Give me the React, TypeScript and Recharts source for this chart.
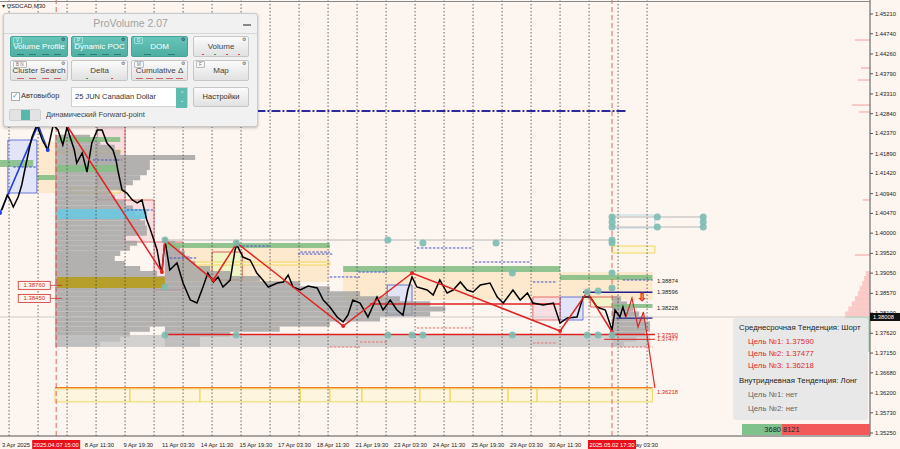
import React from 'react';
import {
  ComposedChart,
  Line,
  XAxis,
  YAxis,
  ReferenceLine,
  ReferenceArea,
  ReferenceDot,
} from 'recharts';

const FONT = '"Liberation Sans", Arial, sans-serif';
const PRICE_MIN = 1.35179;
const PRICE_MAX = 1.45543;
const BAR_MAX = 1440;
const CURRENT_PRICE = 1.38008;

// price scale on the right
const priceTicks = [
  1.4521, 1.4474, 1.4426, 1.4379, 1.4331, 1.4284, 1.4237, 1.4189, 1.4142, 1.4094, 1.4047,
  1.4, 1.3952, 1.3905, 1.3857, 1.381, 1.3762, 1.3715, 1.3668, 1.362, 1.3573, 1.3525,
];

// time scale (M30 bars)
const timeTickBars = [0, 137, 201, 265, 329, 393, 457, 521, 585, 649, 713, 777, 841, 905, 969, 1033];
const timeLabels = [
  '3 Apr 2025', '8 Apr 11:30', '9 Apr 19:30', '11 Apr 03:30', '14 Apr 11:30', '15 Apr 19:30',
  '17 Apr 03:30', '18 Apr 11:30', '21 Apr 19:30', '23 Apr 03:30', '24 Apr 11:30', '25 Apr 19:30',
  '29 Apr 03:30', '30 Apr 11:30', '1 May 19:30', '5 May 03:30',
];
const crosshairBars = [93, 1013];
const crosshairLabels = ['2025.04.07 15:00', '2025.05.02 17:30'];
const daySeparators = [15, 63, 111, 159, 207, 255, 303, 351, 399, 447, 495, 543, 591, 639, 687, 735, 783, 831, 879, 927, 975, 1023, 1071];

// USDCAD M30 closes
const priceBars = [
  3, 12, 17, 22, 30, 36, 41, 48, 53, 61, 70, 79, 88, 96, 104, 111, 116, 123, 127, 136,
  144, 152, 161, 169, 177, 187, 192, 195, 202, 210, 219, 227, 235, 243, 248, 253, 260, 265, 268, 273,
  281, 293, 303, 315, 326, 336, 344, 353, 361, 369, 381, 389, 392, 402, 414, 425, 435, 444, 459, 469,
  477, 485, 497, 510, 525, 535, 546, 558, 568, 576, 584, 596, 609, 624, 634, 646, 657, 667, 675, 682,
  690, 707, 717, 728, 740, 750, 762, 773, 783, 795, 811, 823, 833, 849, 861, 873, 882, 899, 916, 927,
  939, 955, 965, 977, 988, 1002, 1013, 1018, 1026, 1031, 1036,
];
const priceClose = [
  1.40551, 1.40908, 1.40789, 1.40623, 1.4086, 1.41145, 1.41502, 1.41977, 1.42286, 1.42572,
  1.42215, 1.41977, 1.42572, 1.42453, 1.42096, 1.42524, 1.42286, 1.41977, 1.41668, 1.41906,
  1.41454, 1.42144, 1.42453, 1.42453, 1.42144, 1.41977, 1.4174, 1.41502, 1.41027, 1.40955,
  1.40789, 1.40718, 1.40789, 1.40313, 1.40123, 1.39909, 1.396, 1.39196, 1.39077, 1.39838,
  1.39125, 1.39291, 1.38816, 1.38412, 1.3834, 1.38721, 1.39054, 1.3884, 1.38959, 1.38721,
  1.38887, 1.396, 1.39719, 1.39433, 1.39362, 1.39054, 1.38887, 1.38721, 1.38816, 1.3884,
  1.39006, 1.38721, 1.38649, 1.38745, 1.38697, 1.38412, 1.38245, 1.38008, 1.37889, 1.38055,
  1.38412, 1.3834, 1.38008, 1.38483, 1.38174, 1.38412, 1.38174, 1.38055, 1.38649, 1.38959,
  1.38721, 1.38649, 1.38531, 1.38887, 1.38578, 1.38649, 1.3884, 1.38649, 1.38602, 1.38768,
  1.38816, 1.38483, 1.3834, 1.38649, 1.38412, 1.38578, 1.3834, 1.38293, 1.3834, 1.37865,
  1.37984, 1.38008, 1.38483, 1.38483, 1.38245, 1.38174, 1.37699, 1.38174, 1.38008, 1.38245, 1.38008,
];

// zigzag, forecast and early blue swing
const zigzagBars = [108, 268, 273, 353, 392, 568, 682, 927, 972, 1013];
const zigzagPrices = [1.42619, 1.39077, 1.39838, 1.38887, 1.39767, 1.37794, 1.39054, 1.37675, 1.38602, 1.37651];
const forecastBars = [1036, 1046, 1056, 1065, 1084];
const forecastPrices = [1.38008, 1.38459, 1.3777, 1.38127, 1.3632];
const blueSwingBars = [0, 63, 79];
const blueSwingPrices = [1.4048, 1.42572, 1.41977];

// volume profiles: bin bottoms (0.0012 high) and widths in bars
const PROFILE_STEP = 0.0012;
const profileLevels = [
  1.373, 1.3742, 1.3754, 1.3766, 1.3778, 1.379, 1.3802, 1.3814, 1.3826, 1.3838, 1.385, 1.3862,
  1.3874, 1.3886, 1.3898, 1.391, 1.3922, 1.3934, 1.3946, 1.3958, 1.397, 1.3982, 1.3994, 1.4006,
  1.4018, 1.403, 1.4042, 1.4054, 1.4066, 1.4078, 1.409, 1.4102, 1.4114, 1.4126, 1.4138, 1.415,
  1.4162, 1.4174, 1.4186, 1.4198, 1.421, 1.4222,
];
const profileAStart = 91;
const profileAWidths = [
  75, 108, 124, 157, 182, 182, 182, 182, 182, 182, 182, 182, 182, 182, 169, 141, 116, 99, 108, 124,
  136, 116, 152, 152, 149, 141, 132, 129, 116, 99, 91, 116, 129, 141, 152, 157, 157, 232, 108, 99, 75, 58,
];
const profileBStart = 273;
const profileBWidths = [58, 58, 108, 190, 273, 356, 439, 464, 439, 389, 323, 273, 224, 157, 108, 75, 50, 41, 33, 25, 17];
const profileCStart = 1013;
const profileCWidths = [20, 40, 55, 63, 63, 55, 45, 35, 25, 15];

const sellLevels = [1.3802, 1.3814, 1.3826, 1.3838, 1.385, 1.3862, 1.3874, 1.3886, 1.3898];
const sellWidths = [41, 36, 30, 25, 20, 17, 13, 10, 7];
const buyLevels = [1.379, 1.3778, 1.3766, 1.3754, 1.3742, 1.373, 1.3718];
const buyWidths = [41, 33, 25, 20, 17, 13, 8];
const spikePrices = [1.44592, 1.43927, 1.43641, 1.43047, 1.42881, 1.40789, 1.39481];
const spikeWidths = [25, 15, 20, 30, 18, 12, 25];

// zones: [bar1, bar2, priceLow, priceHigh]
const peachZones = [[61, 94, 1.40955, 1.42167], [280, 546, 1.3884, 1.39719], [568, 1080, 1.38412, 1.39077]];
const paleGreenBoxes = [[351, 401, 1.38887, 1.39552], [977, 1023, 1.38245, 1.38483]];
const blueBoxes = [[13, 61, 1.40955, 1.42215], [641, 682, 1.38055, 1.38768], [927, 965, 1.37936, 1.38483]];
const pinkBoxes = [[161, 207, 1.40789, 1.42619], [207, 255, 1.3979, 1.40789], [255, 303, 1.38649, 1.3979], [882, 927, 1.37936, 1.38483]];
const greenBands = [
  [0, 55, 1.41573, 1.4174], [61, 91, 1.41264, 1.41383], [94, 199, 1.42167, 1.42286], [94, 193, 1.41454, 1.41621],
  [273, 546, 1.39648, 1.39767], [568, 927, 1.39077, 1.3922], [927, 1080, 1.38887, 1.39006], [1013, 1080, 1.38222, 1.38317],
];
const cyanBand = [94, 243, 1.40337, 1.40575];
const pocBand = [94, 273, 1.38697, 1.38959];
const lowBand = [91, 1076, 1.37295, 1.3758];
const yellowBoxes = [
  [91, 215, 1.3599, 1.363], [215, 331, 1.3599, 1.363], [331, 497, 1.3599, 1.363], [497, 546, 1.3599, 1.363],
  [546, 599, 1.3599, 1.363], [599, 695, 1.3599, 1.363], [695, 745, 1.3599, 1.363], [745, 841, 1.3599, 1.363],
  [841, 889, 1.3599, 1.363], [889, 1080, 1.3599, 1.363], [323, 546, 1.39243, 1.39315], [1013, 1084, 1.39529, 1.39695],
  [94, 199, 1.41906, 1.41977], [116, 199, 1.40955, 1.41074],
];
const skyBox = [1018, 1084, 1.40124, 1.40432];

// horizontal segments: [bar1, bar2, price]
const navyDashDot = [350, 1038, 1.42904];
const grayLevels = [[273, 1013, 1.39838], [1013, 1164, 1.40385], [1013, 1164, 1.40147]];
const redLevels = [[273, 1084, 1.3759], [1000, 1084, 1.37477], [612, 927, 1.38317]];
const orangeLevel = [91, 1080, 1.3633];
const navyLevels = [[965, 1080, 1.38596], [1020, 1080, 1.37984]];
const blueDashes = [
  [497, 546, 1.39552], [546, 596, 1.38959], [593, 641, 1.39077], [690, 783, 1.39648], [786, 877, 1.39315],
  [882, 922, 1.3884], [1031, 1080, 1.38887], [281, 326, 1.3941], [401, 447, 1.39695], [493, 550, 1.39505],
  [154, 202, 1.4174], [22, 61, 1.41573], [210, 253, 1.40551],
];
const redDashes = [[546, 596, 1.37295], [596, 641, 1.37414], [690, 783, 1.37747], [882, 922, 1.3739], [1026, 1080, 1.37295]];

const blackTargets = [1.38874, 1.38596, 1.38228];
const redTargets = [1.3759, 1.37477, 1.36218];
const TAG_BAR = 1084;
const leftTags = [1.3876, 1.3845];

// teal anchor dots [bar, price]
const anchorDots = [
  [273, 1.39838], [273, 1.38721], [273, 1.3758], [391, 1.39767], [391, 1.3758], [642, 1.39838], [700, 1.39767],
  [821, 1.39767], [642, 1.3758], [682, 1.3758], [700, 1.3758], [848, 1.39054], [848, 1.3758], [972, 1.38602],
  [990, 1.38626], [1013, 1.38697], [1013, 1.39054], [1013, 1.39767], [1013, 1.39838], [1013, 1.40385],
  [1013, 1.40266], [1013, 1.40147], [1088, 1.40385], [1088, 1.40147], [1164, 1.40385], [1164, 1.40266],
  [1164, 1.40147], [972, 1.3758], [990, 1.3758], [1013, 1.3758],
];

// crosshair boxes come last in the tick list so they are painted over the time labels
const XTick = (props: any) => {
  const { x, y, payload } = props;
  const ci = crosshairBars.indexOf(payload.value);
  if (ci >= 0) {
    return (
      <g>
        <rect x={x - 24} y={y + 2} width={48} height={9} fill="#e8101a" />
        <text x={x} y={y + 9} fontSize={5.8} fill="#fff" textAnchor="middle" fontFamily={FONT}>{crosshairLabels[ci]}</text>
      </g>
    );
  }
  const idx = timeTickBars.indexOf(payload.value);
  return (
    <text x={x + 2} y={y + 9} fontSize={5.8} fill="#222" fontFamily={FONT} textAnchor="start">
      {timeLabels[idx]}
    </text>
  );
};

const YTick = (props: any) => {
  const { x, y, payload } = props;
  if (payload.value === CURRENT_PRICE) {
    return (
      <g>
        <rect x={x - 5} y={y - 4} width={30} height={8} fill="#111" />
        <text x={x - 2} y={y + 2} fontSize={5.8} fill="#fff" fontFamily={FONT}>{CURRENT_PRICE.toFixed(5)}</text>
      </g>
    );
  }
  return (
    <text x={x} y={y + 2} fontSize={5.8} fill="#222" fontFamily={FONT} textAnchor="start">
      {payload.value.toFixed(5)}
    </text>
  );
};

const priceTag = (text: string, color: string) => (p: any) => (
  <text x={p.cx + 2} y={p.cy + 2} fontSize={5.8} fill={color} fontFamily={FONT}>{text}</text>
);

const leftTag = (text: string) => (p: any) => (
  <g>
    <rect x={p.cx - 15} y={p.cy - 4} width={32} height={8} fill="#fdf5ef" stroke="#d03030" strokeWidth={0.8} />
    <text x={p.cx + 1} y={p.cy + 2} fontSize={6} fill="#d03030" textAnchor="middle" fontFamily={FONT}>{text}</text>
    <line x1={p.cx + 17} y1={p.cy} x2={p.cx + 29} y2={p.cy} stroke="#d03030" strokeWidth={0.8} />
  </g>
);

const arrowShape = (p: any) => (
  <text x={p.cx} y={p.cy + 4} fontSize={11} fill="none" stroke="#e03030" strokeWidth={0.7} textAnchor="middle" fontFamily="DejaVu Sans">⇩</text>
);

function seg(b1: number, b2: number, price: number) {
  return [{ x: b1, y: price }, { x: b2, y: price }] as any;
}

function Btn(props: { left: number; top: number; width: number; text: string; active?: boolean; tag?: string; marks?: string[] }) {
  const { left, top, width, text, active, tag, marks } = props;
  return (
    <div
      style={{
        position: 'absolute', left, top, width, height: 21, boxSizing: 'border-box', borderRadius: 2,
        background: active ? 'linear-gradient(#66c4b8,#4faea2)' : 'linear-gradient(#fbfbfb,#e1e1e1)',
        border: '1px solid ' + (active ? '#49a397' : '#c6c6c6'),
        color: active ? '#fff' : '#444', fontSize: 8, textAlign: 'center', paddingTop: 5, fontFamily: FONT,
      }}
    >
      {text}
      {tag && (
        <span style={{ position: 'absolute', left: 2, top: 0, fontSize: 4.5, color: active ? '#dff' : '#777', border: '0.5px solid ' + (active ? '#9dd' : '#bbb'), borderRadius: 1, padding: '0 2px', lineHeight: '5px' }}>{tag}</span>
      )}
      <span style={{ position: 'absolute', right: 2, top: -1, fontSize: 5, color: active ? '#234' : '#555' }}>⚙</span>
      {marks && (
        <div style={{ position: 'absolute', left: 3, right: 3, bottom: 1, display: 'flex', justifyContent: 'space-around' }}>
          {marks.map((m, i) => (
            <span key={i} style={{ width: m === 'rdot' || m === 'gdot' ? 2 : 7, height: 1, background: m === 'rdot' ? '#d44' : m === 'gdot' ? '#3a3' : active ? '#2b7d74' : '#c66' }} />
          ))}
        </div>
      )}
    </div>
  );
}

function ProVolumePanel() {
  return (
    <div style={{ position: 'absolute', left: 3, top: 13, width: 253, height: 112, background: '#f1f1f1', border: '1px solid #c9c9c9', borderRadius: 3, boxShadow: '0 1px 3px rgba(0,0,0,0.25)', fontFamily: FONT }}>
      <div style={{ position: 'absolute', left: 0, right: 0, top: 0, height: 19, borderBottom: '1px solid #d6d6d6', textAlign: 'center', fontSize: 10.5, color: '#a2a2a2', lineHeight: '19px' }}>
        ProVolume 2.07
      </div>
      <div style={{ position: 'absolute', right: 6, top: 10, width: 8, height: 1.5, background: '#888' }} />
      <Btn left={6} top={22} width={58} text="Volume Profile" active tag="V" marks={['a', 'a', 'a', 'a']} />
      <Btn left={67} top={22} width={57} text="Dynamic POC" active tag="P" marks={['a', 'a', 'a', 'a']} />
      <Btn left={127} top={22} width={57} text="DOM" active tag="D" marks={['a', 'a']} />
      <Btn left={189} top={22} width={56} text="Volume" marks={['rdot', 'gdot', 'rdot', 'rdot']} />
      <Btn left={6} top={46} width={58} text="Cluster Search" tag="B N" marks={['r', 'r', 'r', 'r']} />
      <Btn left={67} top={46} width={57} text="Delta" marks={['gdot', 'rdot']} />
      <Btn left={127} top={46} width={57} text="Cumulative Δ" tag="M" marks={['a', 'a', 'a', 'r', 'r']} />
      <Btn left={189} top={46} width={56} text="Map" tag="F" />
      <div style={{ position: 'absolute', left: 7, top: 77, fontSize: 7.5, color: '#333' }}>
        <span style={{ display: 'inline-block', width: 7, height: 7, border: '1px solid #aaa', background: '#fff', color: '#4aa', fontSize: 8, lineHeight: '6px', marginRight: 1, verticalAlign: 'middle' }}>✓</span>
        Автовыбор
      </div>
      <div style={{ position: 'absolute', left: 67, top: 73, width: 117, height: 20, background: '#fff', border: '1px solid #cfcfcf', boxSizing: 'border-box', fontSize: 7.5, color: '#333', paddingLeft: 3, lineHeight: '18px' }}>
        25 JUN Canadian Dollar
        <div style={{ position: 'absolute', right: 0, top: 0, width: 11, height: 18, background: '#5dbbb0', color: '#fff', fontSize: 5, lineHeight: '7px', textAlign: 'center', paddingTop: 2 }}>⌃<br />⌄</div>
      </div>
      <div style={{ position: 'absolute', left: 189, top: 73, width: 56, height: 20, boxSizing: 'border-box', background: 'linear-gradient(#fbfbfb,#e1e1e1)', border: '1px solid #c6c6c6', borderRadius: 2, fontSize: 7.5, color: '#333', textAlign: 'center', lineHeight: '18px' }}>
        Настройки
      </div>
      <div style={{ position: 'absolute', left: 5, top: 95, width: 30, height: 10, borderRadius: 2, background: '#e3e3e3', border: '1px solid #d0d0d0' }}>
        <div style={{ position: 'absolute', left: 11, top: 0, width: 9, height: 10, background: '#58b7ab' }} />
      </div>
      <div style={{ position: 'absolute', left: 42, top: 96, fontSize: 7.5, color: '#444' }}>Динамический Forward-point</div>
    </div>
  );
}

function TrendBox() {
  const row = (text: string, color: string, left: number, top: number) => (
    <div style={{ position: 'absolute', left, top, fontSize: 7.8, color, whiteSpace: 'nowrap' }}>{text}</div>
  );
  return (
    <div style={{ position: 'absolute', left: 733, top: 318, width: 135, height: 102, background: '#e8e8e8', borderRadius: 3, fontFamily: FONT }}>
      {row('Среднесрочная Тенденция: Шорт', '#222', 6, 5)}
      {row('Цель №1: 1.37590', '#e02828', 15, 19)}
      {row('Цель №2: 1.37477', '#e02828', 15, 31)}
      {row('Цель №3: 1.36218', '#e02828', 15, 43)}
      {row('Внутридневная Тенденция: Лонг', '#222', 6, 58)}
      {row('Цель №1: нет', '#666', 15, 72)}
      {row('Цель №2: нет', '#666', 15, 86)}
    </div>
  );
}

export default function App() {
  const priceData = priceBars.map((b, i) => ({ bar: b, close: priceClose[i] }));
  const zigzagData = zigzagBars.map((b, i) => ({ bar: b, v: zigzagPrices[i] }));
  const forecastData = forecastBars.map((b, i) => ({ bar: b, v: forecastPrices[i] }));
  const blueSwingData = blueSwingBars.map((b, i) => ({ bar: b, v: blueSwingPrices[i] }));

  const box = (z: number[], key: string, fill: string, stroke: string, opacity = 1) => (
    <ReferenceArea key={key} x1={z[0]} x2={z[1]} y1={z[2]} y2={z[3]} fill={fill} fillOpacity={opacity} stroke={stroke} strokeWidth={0.8} />
  );
  const profile = (start: number, widths: number[], key: string) =>
    widths.map((w, i) => (
      <ReferenceArea key={key + i} x1={start} x2={start + w} y1={profileLevels[i]} y2={profileLevels[i] + PROFILE_STEP} fill="#a0a0a0" fillOpacity={0.8} stroke="none" />
    ));

  return (
    <div style={{ position: 'fixed', left: 0, top: 0, width: 900, height: 449, background: '#fdf5ef', overflow: 'hidden', fontFamily: FONT }}>
      <ComposedChart width={900} height={449} data={priceData} margin={{ top: 0, right: 0, bottom: 0, left: 0 }}>
        <XAxis dataKey="bar" type="number" domain={[0, BAR_MAX]} ticks={[...timeTickBars, ...crosshairBars]} tick={<XTick />} interval={0} tickLine={false} tickSize={0} height={13} axisLine={{ stroke: '#555' }} allowDataOverflow />
        <YAxis orientation="right" type="number" domain={[PRICE_MIN, PRICE_MAX]} ticks={[...priceTicks, CURRENT_PRICE]} tick={<YTick />} interval={0} width={30} tickSize={3} tickMargin={2} axisLine={{ stroke: '#555' }} tickLine={{ stroke: '#555' }} allowDataOverflow />

        {peachZones.map((z, i) => box(z, 'pz' + i, '#fde6c8', 'none', 0.85))}
        {paleGreenBoxes.map((z, i) => box(z, 'gb' + i, '#eef6c4', '#d04040', 0.9))}
        {blueBoxes.map((z, i) => box(z, 'bb' + i, '#dfe2f8', '#4a5ad0', 0.9))}
        {pinkBoxes.map((z, i) => box(z, 'pb' + i, '#f8dcdf', '#e05050', 0.9))}
        {yellowBoxes.map((z, i) => box(z, 'yb' + i, '#fff6d0', '#ecd040', 0.5))}
        {box(skyBox, 'sky', '#fdf5ef', '#a8d4e4', 0.6)}

        {daySeparators.map((b) => (
          <ReferenceLine key={'d' + b} x={b} stroke="#444" strokeDasharray="1.5 2" strokeWidth={0.8} />
        ))}

        {profile(profileAStart, profileAWidths, 'pa')}
        {profile(profileBStart, profileBWidths, 'pbf')}
        {profile(profileCStart, profileCWidths, 'pc')}
        {box(lowBand, 'low', '#c4c4c4', 'none', 0.75)}
        {box(cyanBand, 'cyan', '#6cc8e0', 'none', 0.9)}
        {box(pocBand, 'poc', '#b59d22', 'none', 0.95)}
        {greenBands.map((z, i) => box(z, 'gr' + i, '#86bf86', 'none', 0.9))}

        {sellLevels.map((p, i) => (
          <ReferenceArea key={'s' + i} x1={BAR_MAX - sellWidths[i]} x2={BAR_MAX} y1={p} y2={p + PROFILE_STEP} fill="#f6a0a0" stroke="none" />
        ))}
        {buyLevels.map((p, i) => (
          <ReferenceArea key={'bu' + i} x1={BAR_MAX - buyWidths[i]} x2={BAR_MAX} y1={p} y2={p + PROFILE_STEP} fill="#8ccaa2" stroke="none" />
        ))}
        {spikePrices.map((p, i) => (
          <ReferenceLine key={'sp' + i} segment={seg(BAR_MAX - spikeWidths[i], BAR_MAX, p)} stroke="#f0a0a0" strokeWidth={1} />
        ))}

        <ReferenceLine segment={seg(navyDashDot[0], navyDashDot[1], navyDashDot[2])} stroke="#2a2a9a" strokeWidth={2} strokeDasharray="9 2 2 2" />
        {grayLevels.map((s, i) => (
          <ReferenceLine key={'gl' + i} segment={seg(s[0], s[1], s[2])} stroke="#b8b8b8" strokeWidth={1} />
        ))}
        <ReferenceLine segment={seg(orangeLevel[0], orangeLevel[1], orangeLevel[2])} stroke="#f08020" strokeWidth={1.2} />
        {redLevels.map((s, i) => (
          <ReferenceLine key={'rl' + i} segment={seg(s[0], s[1], s[2])} stroke="#e02020" strokeWidth={i === 1 ? 1 : 1.6} />
        ))}
        {navyLevels.map((s, i) => (
          <ReferenceLine key={'nl' + i} segment={seg(s[0], s[1], s[2])} stroke="#202090" strokeWidth={1.4} />
        ))}
        {blueDashes.map((s, i) => (
          <ReferenceLine key={'bd' + i} segment={seg(s[0], s[1], s[2])} stroke="#4050d0" strokeWidth={1} strokeDasharray="2.5 1.5" />
        ))}
        {redDashes.map((s, i) => (
          <ReferenceLine key={'rd' + i} segment={seg(s[0], s[1], s[2])} stroke="#e07070" strokeWidth={1} strokeDasharray="2.5 1.5" />
        ))}

        <ReferenceLine y={CURRENT_PRICE} stroke="#c2c2c2" strokeWidth={0.8} />
        {crosshairBars.map((b) => (
          <ReferenceLine key={'ch' + b} x={b} stroke="#e04040" strokeDasharray="5 3" strokeWidth={0.8} />
        ))}

        <Line data={blueSwingData} dataKey="v" stroke="#1f3fe0" strokeWidth={1.6} dot={{ r: 2, fill: '#1f3fe0', stroke: 'none' }} activeDot={false} isAnimationActive={false} />
        <Line dataKey="close" stroke="#000" strokeWidth={1.5} dot={false} activeDot={false} isAnimationActive={false} />
        <Line data={zigzagData} dataKey="v" stroke="#e02424" strokeWidth={1.5} dot={{ r: 2, fill: '#e02424', stroke: 'none' }} activeDot={false} isAnimationActive={false} />
        <Line data={forecastData} dataKey="v" stroke="#e02424" strokeWidth={1.2} dot={false} activeDot={false} isAnimationActive={false} />

        {anchorDots.map((d, i) => (
          <ReferenceDot key={'ad' + i} x={d[0]} y={d[1]} r={3.5} fill="#7cbcb2" fillOpacity={0.9} stroke="none" />
        ))}

        {blackTargets.map((p, i) => (
          <ReferenceDot key={'bt' + i} x={TAG_BAR} y={p} r={0} shape={priceTag(p.toFixed(5), '#222')} />
        ))}
        {redTargets.map((p, i) => (
          <ReferenceDot key={'rt' + i} x={TAG_BAR} y={p} r={0} shape={priceTag(p.toFixed(5), '#e02020')} />
        ))}
        {leftTags.map((p, i) => (
          <ReferenceDot key={'lt' + i} x={55} y={p} r={0} shape={leftTag(p.toFixed(5))} />
        ))}
        <ReferenceDot x={1063} y={1.38483} r={0} shape={arrowShape} />
      </ComposedChart>

      <div style={{ position: 'absolute', left: 0, top: 1, width: 870, height: 1, background: '#8a8a8a' }} />
      <div style={{ position: 'absolute', left: 2, top: 2, fontSize: 6, color: '#222' }}>▾ USDCAD,M30</div>

      <ProVolumePanel />
      <TrendBox />

      <div style={{ position: 'absolute', left: 742, top: 424, width: 40, height: 11, background: '#7fc28e', fontSize: 7.5, color: '#222', textAlign: 'right', lineHeight: '11px', paddingRight: 1, boxSizing: 'border-box' }}>3680</div>
      <div style={{ position: 'absolute', left: 782, top: 424, width: 88, height: 11, background: '#f25a5a', fontSize: 7.5, color: '#222', lineHeight: '11px', paddingLeft: 1, boxSizing: 'border-box' }}>8121</div>
    </div>
  );
}
